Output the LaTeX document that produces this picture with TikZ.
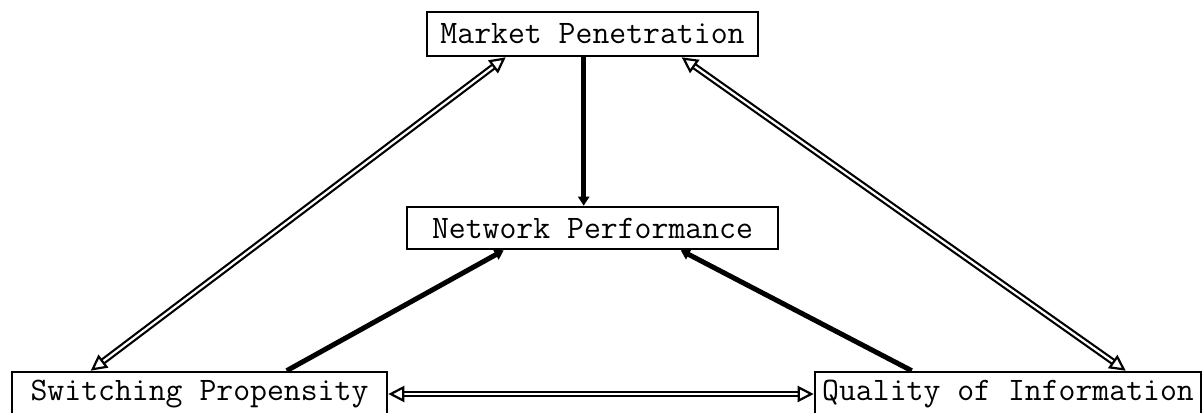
\documentclass[tikz,border=0pt]{standalone}
\usetikzlibrary{arrows.meta,calc}
\begin{document}
\begin{tikzpicture}[x=0.5pt,y=-0.5pt,
  box/.style={draw,line width=1.3pt,inner sep=0pt,
    font=\fontsize{16.4pt}{18pt}\selectfont\ttfamily},
  twoway/.style={double,double distance=1.1pt,line width=1.1pt,
    {Triangle[open,length=8pt,width=8pt,line width=1.1pt]}-{Triangle[open,length=8pt,width=8pt,line width=1.1pt]}},
  influence/.style={line width=2.5pt,-{Triangle[length=4.5pt,width=5.5pt]}}]
\clip (0,0) rectangle (1203,412);
\fill[white] (0,0) rectangle (1203,412);

% boxes
\node[box,minimum width=165.5pt,minimum height=22pt] (mp) at (592.5,34) {Market Penetration};
\node[box,minimum width=185.5pt,minimum height=21pt] (np) at (592.5,228) {Network Performance};
\node[box,minimum width=187.5pt,minimum height=22pt] (sp) at (199.5,394) {Switching Propensity};
\node[box,minimum width=193pt,minimum height=22pt] (qi) at (1008,394) {Quality of Information};

% anchor points on the box borders
\coordinate (mpA) at ($(mp.south west)+(80,0)$);
\coordinate (mpB) at ($(mp.south west)+(158,0)$);
\coordinate (mpC) at ($(mp.south west)+(256,0)$);
\coordinate (npA) at ($(np.north west)+(178,0)$);
\coordinate (npB) at ($(np.south west)+(98,0)$);
\coordinate (npC) at ($(np.south west)+(275,0)$);
\coordinate (spA) at ($(sp.north west)+(80,0)$);
\coordinate (spB) at ($(sp.north west)+(276,0)$);
\coordinate (qiA) at ($(qi.north west)+(98,0)$);
\coordinate (qiB) at ($(qi.north west)+(312,0)$);

% connectors
\draw[influence] (mpB) -- (npA);
\draw[influence] (spB) -- (npB);
\draw[influence] (qiA) -- (npC);
\draw[twoway] (spA) -- (mpA);
\draw[twoway] (qiB) -- (mpC);
\draw[twoway] (sp.east) -- (qi.west);
\end{tikzpicture}
\end{document}
